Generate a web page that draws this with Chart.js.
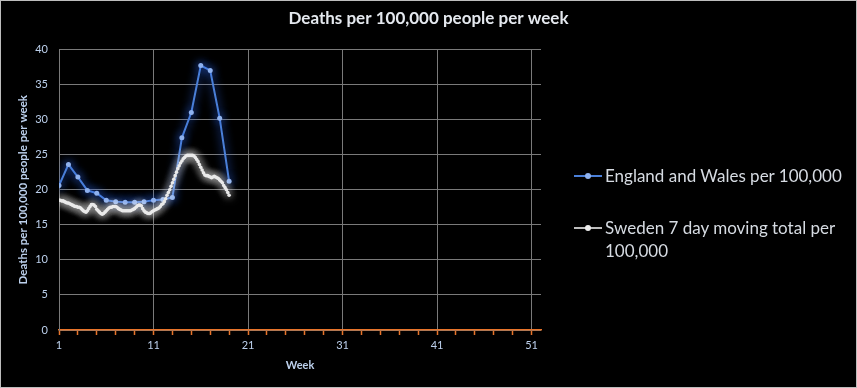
<!DOCTYPE html>
<html>
<head>
<meta charset="utf-8">
<script src="https://cdn.jsdelivr.net/npm/chart.js@4.4.1/dist/chart.umd.min.js"></script>
<style>
  html, body { margin: 0; padding: 0; background: #000; }
  #wrap { position: relative; width: 857px; height: 388px; background: #000; }
  #frame { position: absolute; left: 0; top: 0; width: 857px; height: 388px; box-sizing: border-box; border: 1px solid #bdbdbd; pointer-events: none; }
  canvas { position: absolute; left: 0; top: 0; }
  .legend { position: absolute; left: 574px; font-family: Lato, "Open Sans", sans-serif; font-size: 17px; color: #d6dbe2; line-height: 23px; }
  .legend .key { position: absolute; left: 0; width: 28px; height: 2px; }
  .legend .key i { position: absolute; left: 11px; top: -2px; width: 6px; height: 6px; border-radius: 50%; }
  .legend .txt { position: absolute; left: 31px; width: 270px; white-space: nowrap; }
</style>
</head>
<body>
<div id="wrap">
  <canvas id="chart" width="857" height="388"></canvas>
  <div class="legend" style="top:164px">
    <div class="key" style="top:11px;background:#4a7fd8"><i style="background:#8fb2ee"></i></div>
    <div class="txt">England and Wales per 100,000</div>
  </div>
  <div class="legend" style="top:216px">
    <div class="key" style="top:11px;background:#bdbdbd"><i style="background:#ececec"></i></div>
    <div class="txt">Sweden 7 day moving total per<br>100,000</div>
  </div>
  <div id="frame"></div>
</div>
<script>
// Week numbers shown on the x axis (labels only at 1, 11, 21 ...)
const weekTicks = [1, 3, 5, 7, 9, 11, 13, 15, 17, 19, 21, 23, 25, 27, 29, 31, 33, 35, 37, 39, 41, 43, 45, 47, 49, 51];
const labelledWeeks = [1, 11, 21, 31, 41, 51];

// England and Wales, weekly
const englandWeeks = [1, 2, 3, 4, 5, 6, 7, 8, 9, 10, 11, 12, 13, 14, 15, 16, 17, 18, 19];
const englandValues = [20.6, 23.6, 21.8, 19.9, 19.5, 18.5, 18.3, 18.2, 18.2, 18.3, 18.5, 18.6, 18.9, 27.4, 31.0, 37.7, 37.0, 30.2, 21.2];

// Sweden 7 day moving total, daily from week 1
const swedenValues = [
  18.5, 18.5, 18.4, 18.4, 18.3, 18.2, 18.1,
  18.1, 18.0, 17.9, 17.8, 17.7, 17.6, 17.6,
  17.5, 17.5, 17.4, 17.2, 17.0, 16.9, 16.8,
  17.0, 17.3, 17.6, 17.9, 17.9, 17.8, 17.6,
  17.2, 17.0, 16.8, 16.6, 16.5, 16.6, 16.8,
  17.0, 17.2, 17.4, 17.5, 17.5, 17.6, 17.6,
  17.6, 17.5, 17.3, 17.2, 17.1, 17.0, 17.0,
  17.0, 17.0, 17.0, 17.0, 17.0, 17.1, 17.2,
  17.3, 17.5, 17.7, 17.8, 17.8, 17.7, 17.3,
  17.0, 16.8, 16.7, 16.6, 16.6, 16.7, 16.9,
  17.0, 17.1, 17.2, 17.3, 17.4, 17.6, 17.9,
  18.0, 18.3, 18.7, 19.2, 19.6, 20.0, 20.5,
  21.0, 21.5, 22.0, 22.5, 23.0, 23.4, 23.8,
  24.1, 24.4, 24.6, 24.8, 24.9, 24.9, 24.9,
  24.9, 24.9, 24.8, 24.6, 24.3, 24.0, 23.6,
  23.2, 22.8, 22.4, 22.1, 22.0, 22.0, 21.9,
  21.8, 21.7, 21.8, 21.9, 21.8, 21.7, 21.6,
  21.4, 21.2, 21.0, 20.6, 20.3, 20.0, 19.6,
  19.2
];

const englandData = englandWeeks.map((w, i) => ({ x: w, y: englandValues[i] }));
const swedenData = swedenValues.map((v, i) => ({ x: 1 + i / 7, y: v }));

const axisText = '#bcd0ec';
const gridGray = '#7a7a7a';
const axisOrange = '#e8742a';

// soft glow round each line, like the original
const glow = {
  id: 'glow',
  beforeDatasetDraw(chart, args) {
    const ds = chart.data.datasets[args.index];
    chart.ctx.save();
    chart.ctx.shadowColor = ds.glowColor;
    chart.ctx.shadowBlur = ds.glowBlur;
  },
  afterDatasetDraw(chart) {
    chart.ctx.restore();
  }
};

new Chart(document.getElementById('chart'), {
  type: 'line',
  data: {
    datasets: [
      {
        label: 'England and Wales per 100,000',
        data: englandData,
        borderColor: '#4a7fd8',
        backgroundColor: '#8fb2ee',
        pointBackgroundColor: '#8fb2ee',
        pointBorderWidth: 0,
        borderWidth: 2,
        pointRadius: 2.5,
        glowColor: 'rgba(50,110,255,1)',
        glowBlur: 10,
        order: 1
      },
      {
        label: 'Sweden 7 day moving total per 100,000',
        data: swedenData,
        borderColor: '#cfcfcf',
        backgroundColor: '#e8e8e8',
        pointBackgroundColor: '#e8e8e8',
        pointBorderWidth: 0,
        borderWidth: 1.5,
        pointRadius: 1.8,
        glowColor: 'rgba(255,255,255,0.9)',
        glowBlur: 9,
        order: 0
      }
    ]
  },
  options: {
    responsive: false,
    animation: false,
    layout: { padding: 0 },
    plugins: {
      legend: { display: false },
      tooltip: { enabled: false },
      title: {
        display: true,
        text: 'Deaths per 100,000 people per week',
        color: '#e4e8ee',
        font: { family: 'Lato', size: 17, weight: 'bold' },
        padding: { top: 8, bottom: 21 }
      }
    },
    scales: {
      x: {
        type: 'linear',
        min: 1,
        max: 52,
        afterBuildTicks: scale => { scale.ticks = weekTicks.map(v => ({ value: v })); },
        afterFit: scale => { scale.height = 58; },
        ticks: {
          autoSkip: false,
          maxRotation: 0,
          padding: 4,
          color: axisText,
          font: { family: 'Lato', size: 11 },
          callback: v => labelledWeeks.includes(v) ? String(v) : ''
        },
        grid: {
          color: ctx => (ctx.tick && labelledWeeks.includes(ctx.tick.value)) ? gridGray : 'rgba(0,0,0,0)',
          tickColor: axisOrange,
          tickWidth: 1.5,
          tickLength: 5,
          lineWidth: 1
        },
        border: { color: axisOrange, width: 1.5 },
        title: {
          display: true,
          text: 'Week',
          color: axisText,
          font: { family: 'Lato', size: 11, weight: 'bold' },
          padding: { top: 0, bottom: 16 }
        }
      },
      y: {
        min: 0,
        max: 40,
        afterFit: scale => { scale.width = 59; },
        ticks: {
          stepSize: 5,
          padding: 11,
          color: axisText,
          font: { family: 'Lato', size: 11 }
        },
        grid: { color: gridGray, drawTicks: false, lineWidth: 1 },
        border: { color: gridGray },
        title: {
          display: true,
          text: 'Deaths per 100,000 people per week',
          color: axisText,
          font: { family: 'Lato', size: 11.5, weight: 'bold' },
          padding: { top: 16, bottom: 0 }
        }
      },
      // empty axis that keeps the right-hand side free for the legend
      spacer: {
        type: 'linear',
        position: 'right',
        display: true,
        afterFit: scale => { scale.width = 316; },
        ticks: { display: false },
        grid: { display: false },
        border: { display: false }
      }
    }
  },
  plugins: [glow]
});
</script>
</body>
</html>
